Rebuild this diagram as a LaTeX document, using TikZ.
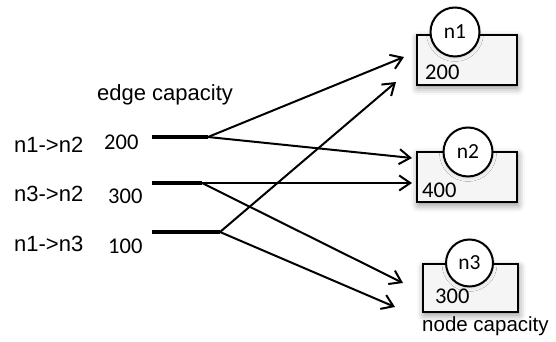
\documentclass[tikz,border=0pt]{standalone}
\usepackage{fontspec}
\setmainfont{Liberation Sans}
\newfontfamily\numfont{Carlito}
\usetikzlibrary{arrows.meta,shadows.blur}

\tikzset{
  lbl/.style={anchor=base west, inner sep=0pt, font=\fontsize{22}{26}\selectfont},
  num/.style={anchor=base west, inner sep=0pt, font=\numfont\fontsize{22.5}{26}\selectfont},
  edgebar/.style={line width=4pt},
  flow/.style={line width=2pt, -{Straight Barb[length=11pt,width=15pt,line width=2pt]}},
  capbox/.style={draw, line width=2pt, fill=black!4, minimum width=100pt, minimum height=50pt,
    inner sep=0pt, outer sep=0pt,
    blur shadow={shadow xshift=1pt, shadow yshift=-3pt, shadow blur radius=7pt, shadow opacity=45}},
  capnode/.style={draw, circle, line width=2pt, fill=white, minimum size=49pt, inner sep=0pt,
    font=\numfont\fontsize{21.5}{26}\selectfont,
    blur shadow={shadow xshift=0pt, shadow yshift=-1pt, shadow blur radius=4pt, shadow opacity=15}},
}

\begin{document}
\begin{tikzpicture}[x=1pt, y=-1pt]
  \useasboundingbox (0,0) rectangle (556,342);

  % left column: edges and their capacities
  \node[lbl] (title) at (97,100.5) {edge capacity};
  \node[lbl] (l12) at (14,152.5) {n1->n2};
  \node[lbl] (l32) at (14,201.5) {n3->n2};
  \node[lbl] (l13) at (14,251.5) {n1->n3};
  \node[num] (c12) at (104,149.3) {200};
  \node[num] (c32) at (108,203.3) {300};
  \node[num] (c13) at (108,253.3) {100};

  % capacity bars with their split points
  \coordinate (b12) at (152,137);  \coordinate (s12) at (208,137);
  \coordinate (b32) at (152,183);  \coordinate (s32) at (202,183);
  \coordinate (b13) at (152,232);  \coordinate (s13) at (220,232);
  \draw[edgebar] (b12) -- (s12);
  \draw[edgebar] (b32) -- (s32);
  \draw[edgebar] (b13) -- (s13);

  % right column: nodes with their capacities
  \node[capbox] (box1) at (466.5,60) {};
  \node[capnode] (n1) at (455,32) {n1};
  \node[num] (v1) at (425,80) {200};

  \node[capbox] (box2) at (467,177) {};
  \node[capnode] (n2) at (468,152) {n2};
  \node[num] (v2) at (422,197) {400};

  \node[capbox, minimum width=95pt, minimum height=48pt] (box3) at (470.5,288) {};
  \node[capnode, minimum size=47pt] (n3) at (469.5,263) {n3};
  \node[num] (v3) at (435,303) {300};
  \node[lbl, font=\fontsize{20.5}{24}\selectfont] (ncap) at (422,331.5) {node capacity};

  % arrow targets next to the boxes
  \coordinate (t1a) at (404,57);
  \coordinate (t1b) at (396,82);
  \coordinate (t2a) at (412,158);
  \coordinate (t2b) at (412,183);
  \coordinate (t3a) at (403,283);
  \coordinate (t3b) at (395,307);

  % flows
  \draw[flow] (s12) -- (t1a);
  \draw[flow] (s12) -- (t2a);
  \draw[flow] (s32) -- (t2b);
  \draw[flow] (s32) -- (t3a);
  \draw[flow] (s13) -- (t1b);
  \draw[flow] (s13) -- (t3b);
\end{tikzpicture}
\end{document}
